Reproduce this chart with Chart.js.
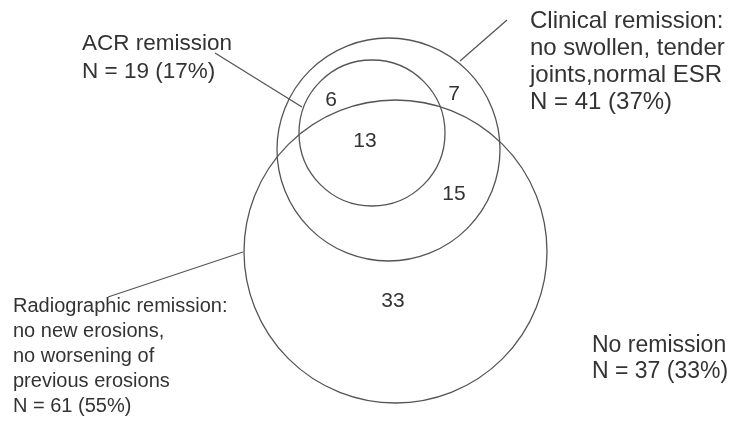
<!DOCTYPE html>
<html><head><meta charset="utf-8">
<script src="https://cdn.jsdelivr.net/npm/chart.js@4.4.1/dist/chart.umd.min.js"></script>
<style>html,body{margin:0;padding:0;background:#fff;overflow:hidden}#wrap{width:729px;height:421px;position:relative}</style>
</head><body><div id="wrap"><canvas id="c" width="729" height="421"></canvas></div>
<script>
// ---- data ----
const setNames = ["ACR remission", "Clinical remission:", "Radiographic remission:", "No remission"];
const setDescriptions = [[], ["no swollen, tender", "joints,normal ESR"], ["no new erosions,", "no worsening of", "previous erosions"], []];
const setTotals = [19, 41, 61, 37];
const setPercents = [17, 37, 55, 33];
const regionNames = ["ACR + Clinical", "Clinical only", "ACR + Clinical + Radiographic", "Clinical + Radiographic", "Radiographic only"];
const regionCounts = [6, 7, 13, 15, 33];

// ---- layout (reference coordinate space, 729 x 421) ----
const circleGeom = [[372, 133, 73], [388.5, 149.5, 111.5], [395.5, 251.5, 151.5]]; // ACR, Clinical, Radiographic
const labelGeom = [
  {x: 82, y: 50, lh: 28, size: 22.5},
  {x: 530, y: 28, lh: 27, size: 24},
  {x: 13, y: 312, lh: 25, size: 20},
  {x: 592, y: 352, lh: 26, size: 23}
];
const pointerGeom = [[[215, 53], [302, 107]], [[460, 61], [507, 20]], [[108, 297], [243, 252]]];
const regionGeom = [[331, 100], [454, 94], [365, 141], [454, 194], [393, 301]];
const lineColor = '#555';
const textColor = '#333';
const fontFamily = '"Liberation Sans", Arial, sans-serif';

const datasets = [];
circleGeom.forEach((g, i) => {
  datasets.push({
    type: 'bubble', label: setNames[i],
    data: [{x: g[0], y: g[1], r: g[2]}],
    backgroundColor: 'rgba(0,0,0,0)', borderColor: lineColor, borderWidth: 1.3,
    hoverRadius: 0, clip: false
  });
});
pointerGeom.forEach((p, k) => {
  datasets.push({
    type: 'line', label: 'pointer ' + k,
    data: p.map(q => ({x: q[0], y: q[1]})),
    borderColor: lineColor, borderWidth: 1.3, pointRadius: 0, fill: false, clip: false
  });
});

const textPlugin = {
  id: 'vennText',
  afterDatasetsDraw(chart) {
    const ctx = chart.ctx, xs = chart.scales.x, ys = chart.scales.y;
    ctx.save();
    ctx.fillStyle = textColor;
    ctx.textAlign = 'left';
    ctx.textBaseline = 'alphabetic';
    setNames.forEach((name, i) => {
      const g = labelGeom[i];
      const lines = [name].concat(setDescriptions[i], ['N = ' + setTotals[i] + ' (' + setPercents[i] + '%)']);
      ctx.font = g.size + 'px ' + fontFamily;
      lines.forEach((t, j) => ctx.fillText(t, xs.getPixelForValue(g.x), ys.getPixelForValue(g.y + j * g.lh)));
    });
    ctx.textAlign = 'center';
    ctx.textBaseline = 'middle';
    ctx.font = '21px ' + fontFamily;
    regionCounts.forEach((v, i) => {
      ctx.fillText(String(v), xs.getPixelForValue(regionGeom[i][0]), ys.getPixelForValue(regionGeom[i][1]));
    });
    ctx.restore();
  }
};

new Chart(document.getElementById('c'), {
  type: 'bubble',
  data: {datasets},
  options: {
    responsive: false, animation: false, events: [],
    layout: {padding: 0, autoPadding: false},
    plugins: {legend: {display: false}, tooltip: {enabled: false}},
    scales: {
      x: {type: 'linear', min: 0, max: 729, display: false},
      y: {type: 'linear', min: 0, max: 421, reverse: true, display: false}
    }
  },
  plugins: [textPlugin]
});
</script></body></html>
